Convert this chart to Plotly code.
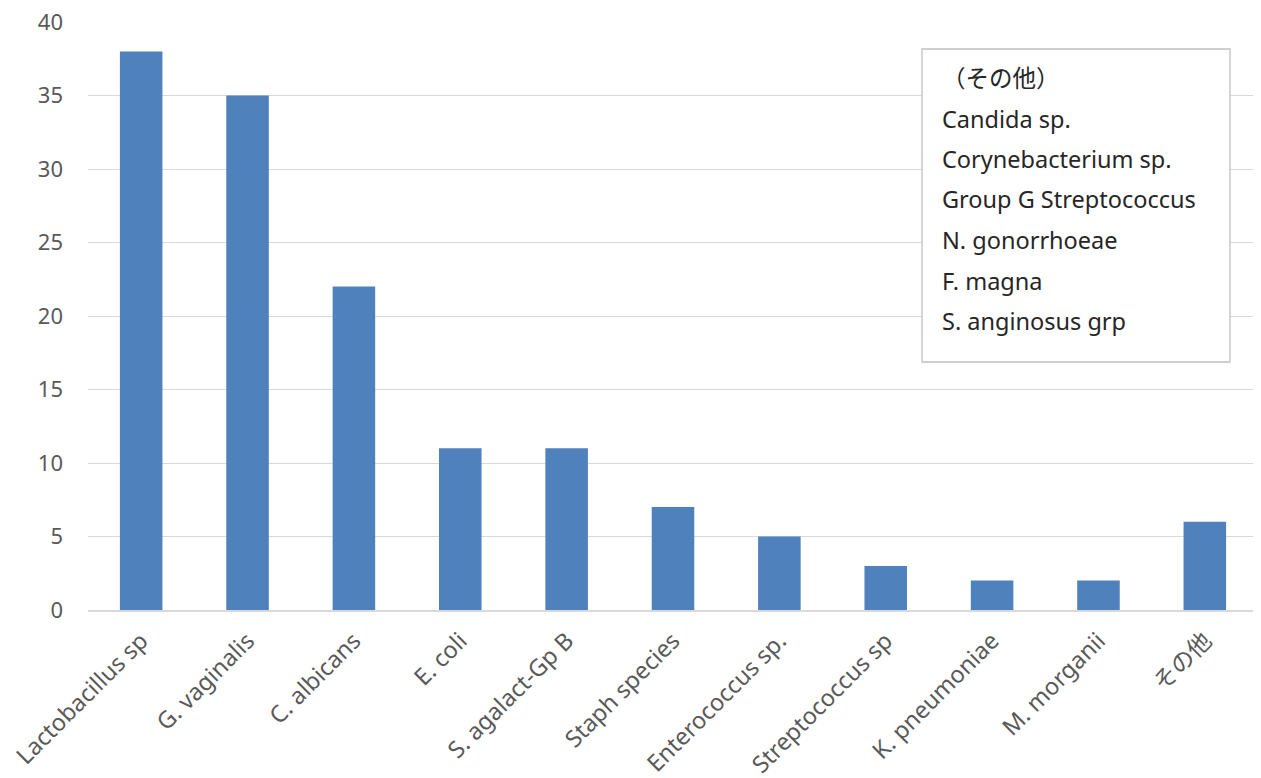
import plotly.graph_objects as go

categories = ["Lactobacillus sp", "G. vaginalis", "C. albicans", "E. coli", "S. agalact-Gp B",
              "Staph species", "Enterococcus sp.", "Streptococcus sp", "K. pneumoniae",
              "M. morganii", "その他"]
counts = [38, 35, 22, 11, 11, 7, 5, 3, 2, 2, 6]
y_ticks = [0, 5, 10, 15, 20, 25, 30, 35, 40]
other_lines = ["（その他）", "Candida sp.", "Corynebacterium sp.", "Group G Streptococcus",
               "N. gonorrhoeae", "F. magna", "S. anginosus grp"]

FONT = "Noto Sans, Noto Sans CJK JP"

fig = go.Figure(go.Bar(x=categories, y=counts, marker=dict(color="#4F81BD", line=dict(width=0)),
                       width=0.4))

# page body has an 8px margin, so figure coords = page coords - 8
OFF = 8
W, H = 1253, 770
L, R, T, B = 88 - OFF, W - (1258 - OFF), 22 - OFF, H - (610 - OFF)
pw, ph = W - L - R, H - T - B

def px_x(x):
    return (x - OFF - L) / pw

def px_y(y):
    return (H - B - (y - OFF)) / ph

fig.add_shape(type="rect", xref="paper", yref="paper",
              x0=px_x(922), x1=px_x(1230), y0=px_y(362), y1=px_y(49),
              line=dict(color="#BFBFBF", width=1.3), fillcolor="white", layer="above")

for i, t in enumerate(other_lines):
    fig.add_annotation(xref="paper", yref="paper", x=px_x(940), y=px_y(78 + i * 40.5),
                       text=t, showarrow=False, xanchor="left", yanchor="middle",
                       font=dict(family=FONT, size=23.5, color="#262626"))

fig.update_layout(
    width=W, height=H,
    margin=dict(l=L, r=R, t=T, b=B, autoexpand=False),
    plot_bgcolor="white", paper_bgcolor="white",
    showlegend=False,
    font=dict(family=FONT, color="#595959"),
    bargap=0.6,
    xaxis=dict(tickangle=-45, tickfont=dict(size=23.5, color="#595959"), showline=True,
               linecolor="#D9D9D9", linewidth=1.5, ticks="", automargin=False,
               ticklabelstandoff=6),
    yaxis=dict(range=[0, 40], tickmode="array", tickvals=y_ticks,
               ticktext=[str(v) for v in y_ticks], showgrid=True, gridcolor="#D9D9D9",
               gridwidth=1.3, tickfont=dict(size=22, color="#595959"), zeroline=False,
               ticks="", ticklabelstandoff=24, automargin=False,
               ticklabeloverflow="allow"),
)

fig.write_html("out.html")
